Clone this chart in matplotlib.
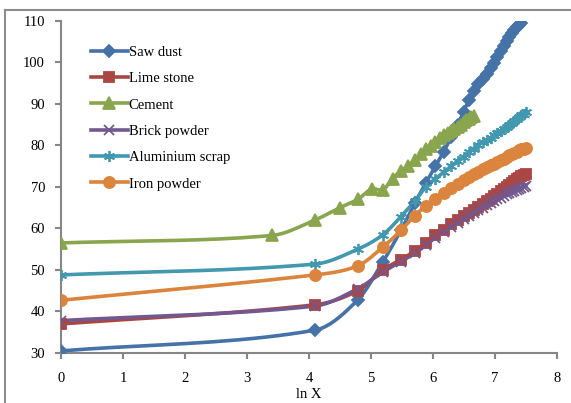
import matplotlib
matplotlib.use('Agg')
import matplotlib.pyplot as plt
from matplotlib.lines import Line2D
import numpy as np

plt.rcParams['font.family'] = ['Liberation Serif', 'DejaVu Serif']

# X values (the axis shows ln X)
X_60 = [1, 60, 120, 180, 240, 300, 360, 420, 480, 540, 600, 660, 720, 780, 840, 900,
        960, 1020, 1080, 1140, 1200, 1260, 1320, 1380, 1440, 1500, 1560, 1620, 1680,
        1740, 1800]
X_30 = [1, 30, 60, 90, 120, 150, 180, 210, 240, 270, 300, 330, 360, 390, 420, 450,
        480, 510, 540, 570, 600, 630, 660, 690, 720, 750, 780]

saw_dust = [30.5, 35.5, 42.8, 52.0, 59.5, 66.0, 71.0, 75.0, 78.5, 82.0, 85.0, 88.0,
            91.0, 93.0, 94.8, 96.0, 97.2, 98.5, 99.8, 101.3, 102.8, 104.0, 105.0,
            106.0, 107.0, 107.8, 108.5, 109.0, 109.5]
lime_stone = [37.0, 41.6, 45.0, 50.0, 52.5, 54.5, 56.5, 58.3, 59.7, 61.0, 62.0, 62.9,
              63.7, 64.5, 65.2, 65.9, 66.6, 67.2, 67.8, 68.4, 69.0, 69.5, 70.0, 70.5,
              71.0, 71.4, 71.8, 72.2, 72.6, 72.9, 73.2]
cement = [56.5, 58.3, 62.0, 65.0, 67.0, 69.5, 69.3, 72.0, 73.8, 75.0, 76.5, 78.0, 79.0,
          79.8, 80.8, 81.8, 82.6, 83.0, 83.5, 84.0, 84.3, 85.0, 85.5, 86.0, 86.4, 86.8,
          87.0]
brick_powder = [37.8, 41.3, 45.5, 49.5, 52.0, 54.0, 56.0, 57.8, 59.2, 60.4, 61.4, 62.3,
                63.1, 63.8, 64.4, 65.0, 65.6, 66.1, 66.6, 67.0, 67.4, 67.8, 68.2, 68.5,
                68.8, 69.1, 69.3, 69.6, 69.8, 70.0, 70.2]
alu_scrap = [48.8, 51.4, 55.0, 58.5, 62.8, 66.5, 70.0, 72.0, 73.5, 75.0, 76.2, 77.3,
             78.3, 79.2, 80.0, 80.8, 81.2, 81.8, 82.4, 82.9, 83.4, 83.9, 84.4, 84.9,
             85.4, 85.9, 86.4, 86.8, 87.2, 87.6, 88.0]
iron_powder = [42.7, 48.8, 51.0, 55.5, 59.5, 63.0, 65.5, 67.0, 68.5, 69.7, 70.7, 71.6,
               72.3, 73.0, 73.6, 74.2, 74.7, 75.2, 75.6, 76.0, 76.4, 76.8, 77.2, 77.6,
               77.9, 78.2, 78.5, 78.8, 79.0, 79.2, 79.4]


def smooth(x, y, n=20):
    # cubic Hermite curve through the points (slopes from neighbours)
    x = np.asarray(x, float)
    y = np.asarray(y, float)
    m = np.empty_like(y)
    m[1:-1] = (y[2:] - y[:-2]) / (x[2:] - x[:-2])
    m[0] = (y[1] - y[0]) / (x[1] - x[0])
    m[-1] = (y[-1] - y[-2]) / (x[-1] - x[-2])
    xs, ys = [], []
    t = np.linspace(0, 1, n, endpoint=False)
    for i in range(len(x) - 1):
        h = x[i + 1] - x[i]
        h00 = 2 * t**3 - 3 * t**2 + 1
        h10 = t**3 - 2 * t**2 + t
        h01 = -2 * t**3 + 3 * t**2
        h11 = t**3 - t**2
        xs.append(x[i] + t * h)
        ys.append(h00 * y[i] + h10 * h * m[i] + h01 * y[i + 1] + h11 * h * m[i + 1])
    xs.append([x[-1]])
    ys.append([y[-1]])
    return np.concatenate(xs), np.concatenate(ys)


series = [
    ('Saw dust', np.log(X_60[:len(saw_dust)]), saw_dust, '#4572A7', 'D', 6.5),
    ('Lime stone', np.log(X_60), lime_stone, '#AA4643', 's', 7.5),
    ('Cement', np.log(X_30), cement, '#89A54E', '^', 8.5),
    ('Brick powder', np.log(X_60), brick_powder, '#71588F', 'x', 7),
    ('Aluminium scrap', np.log(X_60), alu_scrap, '#4198AF', (6, 2, 0), 8),
    ('Iron powder', np.log(X_60), iron_powder, '#DB843D', 'o', 8),
]

fig = plt.figure(figsize=(5.71, 4.03), dpi=100)
ax = fig.add_axes([0.1068, 0.124, 0.8687, 0.8246])

handles = []
for name, x, y, col, mk, ms in series:
    sx, sy = smooth(x, y)
    ax.plot(sx, sy, color=col, lw=2.6, solid_capstyle='round', zorder=2)
    ax.plot(x, y, linestyle='none', marker=mk, markersize=ms, color=col,
            markeredgecolor=col, markeredgewidth=1.3, zorder=3)
    handles.append(Line2D([0], [0], color=col, lw=2.6, marker=mk, markersize=ms,
                          markeredgecolor=col, markeredgewidth=1.3))

ax.set_xlim(0, 8)
ax.set_ylim(30, 110)
ax.set_xticks(np.arange(0, 9, 1))
ax.set_yticks(np.arange(30, 111, 10))

for s in ['top', 'right']:
    ax.spines[s].set_visible(False)
for s in ['left', 'bottom']:
    ax.spines[s].set_color('#868686')
    ax.spines[s].set_linewidth(1.5)
ax.tick_params(axis='both', colors='#868686', labelcolor='black', length=4.5,
               width=1.5, labelsize=10.5)
ax.tick_params(axis='x', pad=9)
ax.tick_params(axis='y', pad=7)

ax.set_xlabel('ln X', fontsize=10.5, labelpad=2.5)

ax.legend(handles, [s[0] for s in series], loc='upper left', frameon=False,
          bbox_to_anchor=(0.06, 0.925), borderaxespad=0, borderpad=0,
          handlelength=2.55, handletextpad=0.05, labelspacing=0.9, fontsize=10.5)

# grey chart border
fig.add_artist(Line2D([5 / 571, 1], [1 - 10 / 403, 1 - 10 / 403], color='#8C8C8C', lw=1.5))
fig.add_artist(Line2D([5 / 571, 5 / 571], [0, 1 - 10 / 403], color='#8C8C8C', lw=1.5))

plt.savefig('out.png', dpi=100)
